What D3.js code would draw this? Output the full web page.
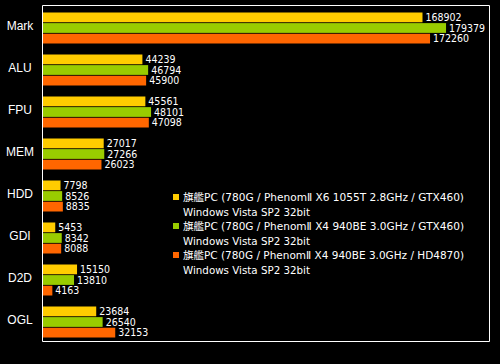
<!DOCTYPE html>
<html lang="ja">
<head>
<meta charset="utf-8">
<script src="https://d3js.org/d3.v7.min.js"></script>
<style>
  body { margin: 0; background: #000; }
  svg { display: block; }
</style>
</head>
<body>
<svg id="chart" width="500" height="364"></svg>
<script>
const categories = ["Mark", "ALU", "FPU", "MEM", "HDD", "GDI", "D2D", "OGL"];
const seriesNames = [
  ["旗艦PC (780G / PhenomⅡ X6 1055T 2.8GHz / GTX460)", "Windows Vista SP2 32bit"],
  ["旗艦PC (780G / PhenomⅡ X4 940BE 3.0GHz / GTX460)", "Windows Vista SP2 32bit"],
  ["旗艦PC (780G / PhenomⅡ X4 940BE 3.0GHz / HD4870)", "Windows Vista SP2 32bit"]
];
const x6gtx = [168902, 44239, 45561, 27017, 7798, 5453, 15150, 23684];
const x4gtx = [179379, 46794, 48101, 27266, 8526, 8342, 13810, 26540];
const x4hd  = [172260, 45900, 47098, 26023, 8835, 8088, 4163, 32153];
const colors = ["#ffcc00", "#99cc00", "#ff6600"];

const series = [x6gtx, x4gtx, x4hd];

const svg = d3.select("#chart");
const frameL = 42.5, frameR = 489.5, frameT = 5.5, frameB = 341.5;

const x = d3.scaleLinear().domain([0, 198500]).range([43, 489]);
const y = d3.scaleBand().domain(categories).range([frameT, frameB]);
const ys = d3.scaleBand().domain([0, 1, 2]).range([7, 38]).paddingInner(0.08);

// frame
svg.append("path")
  .attr("d", `M${frameL},${frameT}H${frameR}V${frameB}H${frameL}Z`)
  .attr("fill", "none").attr("stroke", "#fff").attr("stroke-width", 1);

const g = svg.selectAll("g.cat").data(categories).enter().append("g")
  .attr("transform", d => `translate(0,${y(d)})`);

g.append("text")
  .attr("x", 20).attr("y", y.bandwidth() / 2)
  .attr("text-anchor", "middle").attr("dominant-baseline", "middle")
  .attr("fill", "#fff")
  .style("font-family", "'Liberation Sans', Arial, sans-serif")
  .style("font-size", "12px")
  .text(d => d);

series.forEach((vals, s) => {
  g.append("rect")
    .attr("x", 43)
    .attr("y", ys(s))
    .attr("width", (d, i) => x(vals[i]) - 43)
    .attr("height", ys.bandwidth())
    .attr("fill", colors[s]);
  g.append("text")
    .attr("x", (d, i) => x(vals[i]) + 3)
    .attr("y", ys(s) + ys.bandwidth() / 2 + 0.5)
    .attr("dominant-baseline", "middle")
    .attr("fill", "#fff")
    .style("font-family", "'DejaVu Sans Condensed', 'DejaVu Sans', sans-serif")
    .style("font-stretch", "condensed")
    .style("font-size", "10.5px")
    .text((d, i) => vals[i]);
});

// legend
const legFont = "'DejaVu Sans', 'Noto Sans CJK JP', sans-serif";
const leg = svg.selectAll("g.leg").data(seriesNames).enter().append("g")
  .attr("transform", (d, i) => `translate(173,${201 + i * 29})`);
leg.append("rect")
  .attr("x", 0).attr("y", -7).attr("width", 6).attr("height", 6)
  .attr("fill", (d, i) => colors[i]);
leg.append("text")
  .attr("x", 10).attr("y", 0)
  .attr("fill", "#fff")
  .style("font-family", legFont)
  .style("font-size", "10.5px")
  .attr("textLength", 281).attr("lengthAdjust", "spacingAndGlyphs")
  .text(d => d[0]);
leg.append("text")
  .attr("x", 10).attr("y", 14.5)
  .attr("fill", "#fff")
  .style("font-family", legFont)
  .style("font-size", "10.5px")
  .attr("textLength", 127).attr("lengthAdjust", "spacingAndGlyphs")
  .text(d => d[1]);
</script>
</body>
</html>
